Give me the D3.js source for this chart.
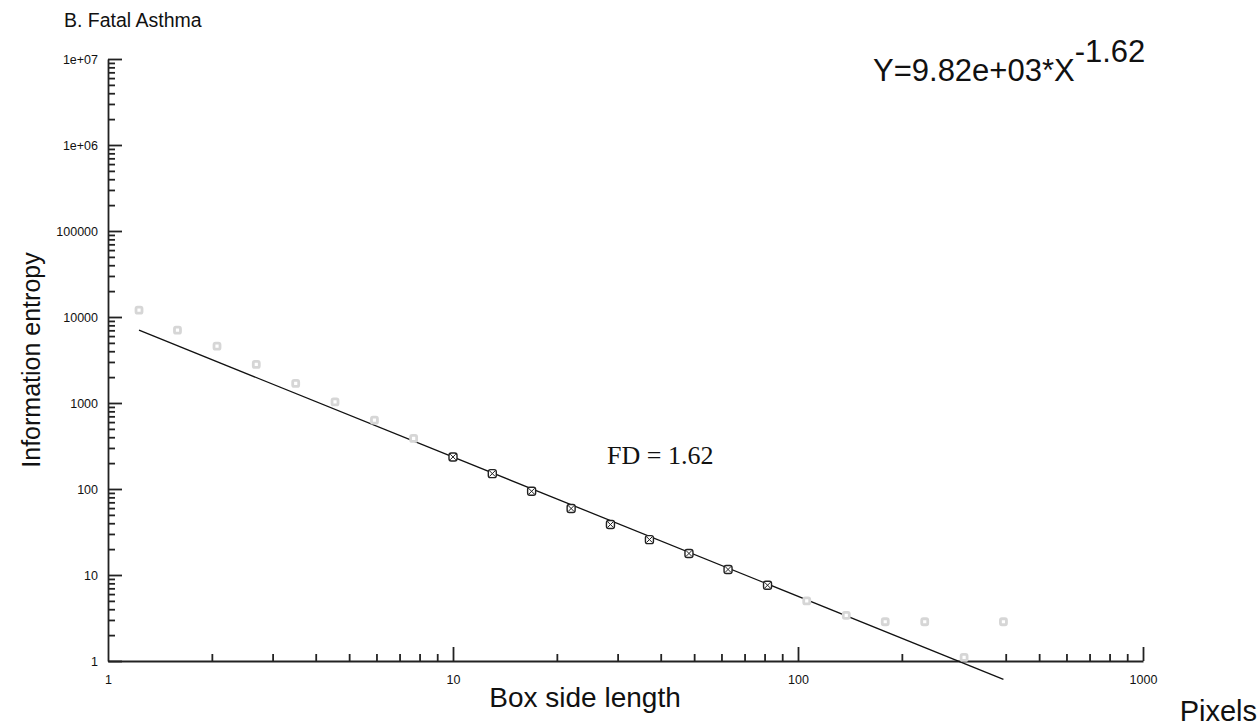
<!DOCTYPE html>
<html>
<head>
<meta charset="utf-8">
<script src="https://cdn.jsdelivr.net/npm/d3@7"></script>
<style>
  body { margin: 0; background: #fff; }
  text { font-family: "Liberation Sans", Arial, Helvetica, sans-serif; fill: #111; }
  .tick text { font-size: 12.5px; }
  .domain, .tick line { stroke: #222; stroke-width: 1.8; }
</style>
</head>
<body>
<div id="chart"></div>
<script>
// Box counting data (box side length in pixels, information entropy)
var boxSide = [1.23, 1.59, 2.07, 2.69, 3.5, 4.55, 5.92, 7.69,
    10, 13, 16.9, 22, 28.6, 37.1, 48.3, 62.7, 81.6,
    106, 138, 179, 233, 303, 394];
var entropy = [12000, 7030, 4580, 2810, 1690, 1030, 631, 387,
    236, 151, 94, 59.3, 38.6, 25.8, 17.8, 11.6, 7.6,
    4.99, 3.4, 2.86, 2.86, 1.1, 2.86];

// points that were used for the fit
var fitFrom = 10;
var fitTo = 81.6;

// fitted power law
var fitCoef = 9.82e3;
var fitExp = -1.62;

var xTicks = [1, 10, 100, 1000];
var yTicks = [1, 10, 100, 1000, 10000, 100000, 1e6, 1e7];
var yTickLabels = ["1", "10", "100", "1000", "10000", "100000", "1e+06", "1e+07"];

var svgWidth = 1258;
var svgHeight = 727;

var margin = {
    top: 59,
    right: 115,
    bottom: 66,
    left: 108
};

var width = svgWidth - margin.left - margin.right;
var height = svgHeight - margin.top - margin.bottom;

var svg = d3.select("#chart")
    .append("svg")
    .attr("width", svgWidth)
    .attr("height", svgHeight);

var chartGroup = svg.append("g")
    .attr("transform", `translate(${margin.left}, ${margin.top})`);

var xLogScale = d3.scaleLog()
    .domain([1, 1000])
    .range([0, width]);

var yLogScale = d3.scaleLog()
    .domain([1, 1e7])
    .range([height, 0]);

// minor ticks 2..9 in every decade
function minorTicks(majors) {
    var out = [];
    majors.slice(0, -1).forEach(function(m) {
        for (var k = 2; k <= 9; k++) out.push(m * k);
    });
    return out;
}

// minor ticks first (no labels)
chartGroup.append("g")
    .attr("transform", `translate(0, ${height})`)
    .call(d3.axisBottom(xLogScale).tickValues(minorTicks(xTicks)).tickSizeInner(-7).tickSizeOuter(0).tickFormat(""))
    .call(g => g.select(".domain").remove());

chartGroup.append("g")
    .call(d3.axisLeft(yLogScale).tickValues(minorTicks(yTicks)).tickSizeInner(-7).tickSizeOuter(0).tickFormat(""))
    .call(g => g.select(".domain").remove());

// major axes
var xAxis = chartGroup.append("g")
    .attr("transform", `translate(0, ${height})`)
    .call(d3.axisBottom(xLogScale).tickValues(xTicks).tickSizeInner(-14).tickSizeOuter(0).tickPadding(12)
        .tickFormat(d => String(d)));
xAxis.selectAll(".tick text").attr("dy", "0.9em");
xAxis.selectAll(".tick").filter(d => d === 1).select("line").remove();

var yAxis = chartGroup.append("g")
    .call(d3.axisLeft(yLogScale).tickValues(yTicks).tickSizeInner(-14).tickSizeOuter(0).tickPadding(10)
        .tickFormat((d, i) => yTickLabels[i]));
yAxis.selectAll(".tick text").attr("x", -10);

// fit line over the whole range of box sizes
var fitLine = d3.line()
    .x(d => xLogScale(d))
    .y(d => yLogScale(fitCoef * Math.pow(d, fitExp)));

chartGroup.append("path")
    .datum([boxSide[0], boxSide[boxSide.length - 1]])
    .attr("d", fitLine)
    .attr("fill", "none")
    .attr("stroke", "#111")
    .attr("stroke-width", 1.3);

var points = boxSide.map((b, i) => ({ x: b, y: entropy[i], fit: b >= fitFrom && b <= fitTo }));

// points outside the fit: light grey squares
chartGroup.selectAll("rect.outside")
    .data(points.filter(d => !d.fit))
    .enter()
    .append("rect")
    .attr("class", "outside")
    .attr("x", d => xLogScale(d.x) - 3)
    .attr("y", d => yLogScale(d.y) - 3)
    .attr("width", 6)
    .attr("height", 6)
    .attr("rx", 1.5)
    .attr("fill", "#fff")
    .attr("stroke", "#d6d6d6")
    .attr("stroke-width", 2.8);

// fitted points: dark squares with a cross
var fitGroup = chartGroup.selectAll("g.fitpt")
    .data(points.filter(d => d.fit))
    .enter()
    .append("g")
    .attr("class", "fitpt")
    .attr("transform", d => `translate(${xLogScale(d.x)}, ${yLogScale(d.y)})`);

fitGroup.append("rect")
    .attr("x", -4)
    .attr("y", -4)
    .attr("width", 8)
    .attr("height", 8)
    .attr("rx", 2.2)
    .attr("fill", "#fff")
    .attr("stroke", "#222")
    .attr("stroke-width", 1.4);

fitGroup.append("path")
    .attr("d", "M-2.8,-2.8L2.8,2.8M-2.8,2.8L2.8,-2.8")
    .attr("stroke", "#222")
    .attr("stroke-width", 1);

// titles and labels
svg.append("text")
    .attr("x", 64)
    .attr("y", 27)
    .style("font-size", "19.5px")
    .text("B. Fatal Asthma");

svg.append("text")
    .attr("transform", `translate(40, ${margin.top + height / 2}) rotate(-90)`)
    .attr("text-anchor", "middle")
    .style("font-size", "25px")
    .text("Information entropy");

svg.append("text")
    .attr("x", 585)
    .attr("y", 707)
    .attr("text-anchor", "middle")
    .style("font-size", "28px")
    .text("Box side length");

svg.append("text")
    .attr("x", 1257)
    .attr("y", 721)
    .attr("text-anchor", "end")
    .style("font-size", "29px")
    .text("Pixels");

var eq = svg.append("text")
    .attr("x", 873)
    .attr("y", 81)
    .style("font-size", "31px");
eq.append("tspan").text("Y=9.82e+03*X");
eq.append("tspan")
    .attr("dy", -19)
    .text(String(fitExp.toFixed(2)));

svg.append("text")
    .attr("x", 607)
    .attr("y", 464)
    .style("font-family", "\"Liberation Serif\", \"Times New Roman\", serif")
    .style("font-size", "26px")
    .text("FD = " + (-fitExp).toFixed(2));
</script>
</body>
</html>
